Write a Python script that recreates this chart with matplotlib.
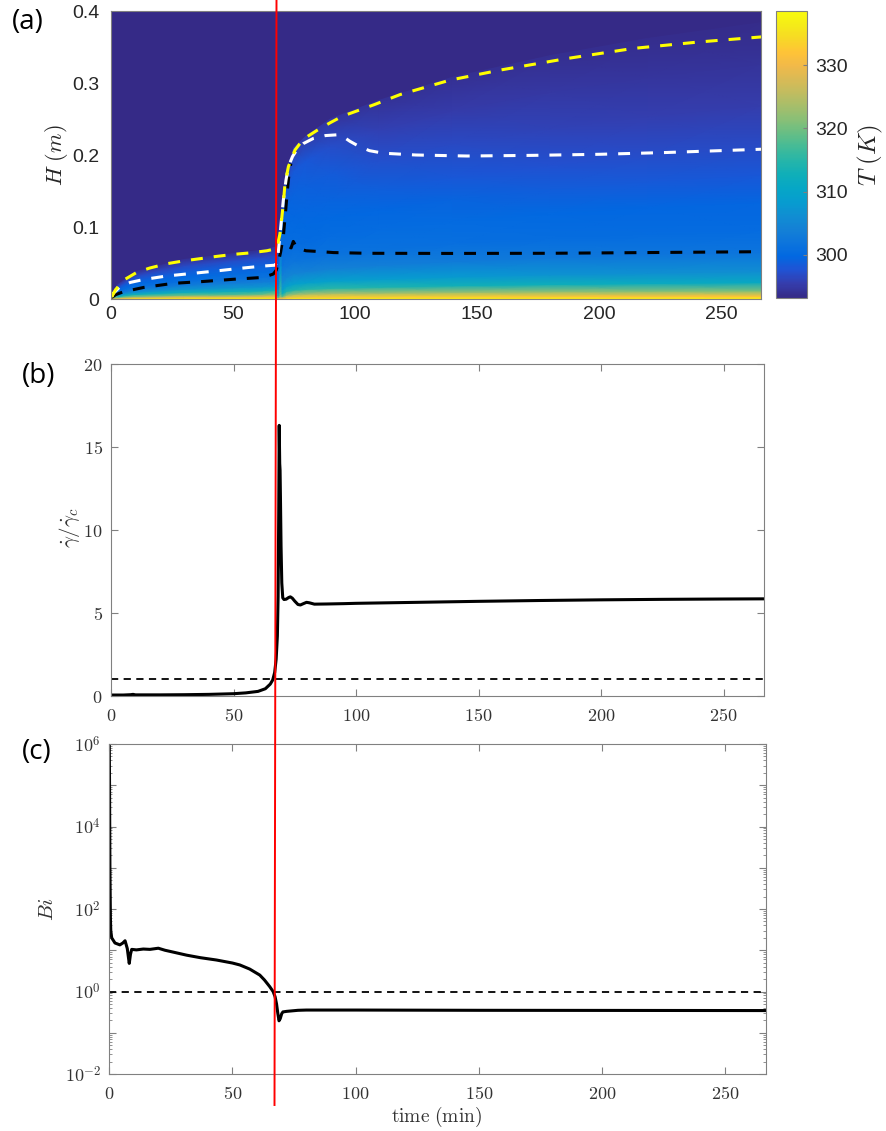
import numpy as np
import matplotlib
matplotlib.use('Agg')
import matplotlib.pyplot as plt
from matplotlib.colors import LinearSegmentedColormap
from matplotlib.ticker import FixedLocator, FuncFormatter, LogLocator, NullFormatter
from matplotlib.lines import Line2D

plt.rcParams['mathtext.fontset'] = 'cm'

# MATLAB parula colormap (every 3rd entry of the 64-colour table)
PARULA = [
    (0.2081, 0.1663, 0.5292), (0.2081, 0.2386, 0.6771), (0.1253, 0.3242, 0.8303),
    (0.0060, 0.4086, 0.8828), (0.0498, 0.4586, 0.8641), (0.0779, 0.5040, 0.8384),
    (0.0641, 0.5570, 0.8240), (0.0265, 0.6137, 0.8135), (0.0228, 0.6535, 0.7768),
    (0.0590, 0.6838, 0.7254), (0.1453, 0.7098, 0.6646), (0.2586, 0.7317, 0.5954),
    (0.3953, 0.7459, 0.5244), (0.5300, 0.7491, 0.4661), (0.6473, 0.7456, 0.4188),
    (0.7525, 0.7384, 0.3768), (0.8507, 0.7299, 0.3360), (0.9450, 0.7261, 0.2886),
    (0.9990, 0.7653, 0.2164), (0.9697, 0.8481, 0.1475), (0.9598, 0.9218, 0.0948),
    (0.9763, 0.9831, 0.0538)]
parula = LinearSegmentedColormap.from_list('parula', PARULA)

# ---- panel (a): temperature field, columns in time, rows as fraction of local depth
col_t = [0, 3, 10, 30, 50, 62, 67.5, 68.6, 69.4, 70.3, 72, 75, 80, 90, 110, 140, 180, 220, 266.5]
col_top = [0.004, 0.02, 0.038, 0.055, 0.063, 0.068, 0.072, 0.078, 0.10, 0.13, 0.178, 0.21,
           0.226, 0.25, 0.276, 0.308, 0.338, 0.362, 0.384]
eta = [0, 0.01, 0.03, 0.06, 0.1, 0.17, 0.25, 0.35, 0.45, 0.55, 0.7, 0.85, 1.0]
T_cols = [
    [338, 338, 337, 335, 332, 328, 322, 316, 310, 305, 300, 297, 294],
    [338, 337, 334, 328, 322, 315, 309, 304, 302, 300.5, 299, 297, 294.5],
    [338, 337, 334, 327, 320, 313, 307, 303, 301, 299.8, 298.5, 296.5, 294],
    [338, 337, 334, 327, 319, 312, 307, 303, 301, 299.8, 298.5, 296.5, 294],
    [338, 337, 334, 326, 318, 312, 307, 303.5, 301.5, 300.3, 298.8, 296.8, 294],
    [338, 337, 334, 327, 319, 312, 307, 303.5, 301.5, 300.3, 298.8, 296.8, 294],
    [338, 337, 334, 328, 321, 313, 307, 303, 301, 300, 298.5, 296.5, 294.5],
    [338, 330, 318, 310, 306, 303, 301, 300, 299.5, 299, 298, 297, 295],
    [338, 332, 325, 320, 318, 316, 314, 311, 308, 305, 302, 299, 296],
    [338, 330, 318, 312, 309, 306, 304, 302, 301, 300.5, 300, 299, 296],
    [338, 332, 322, 314, 309, 305, 302.5, 301, 300.3, 300, 299.5, 298.5, 296],
    [338, 333, 323, 314, 309, 304.5, 302, 300.6, 300, 299.7, 299.2, 298.3, 295.5],
    [338, 333, 324, 315, 309, 304, 301.5, 300.2, 299.8, 299.5, 299, 298, 295],
    [338, 333, 324, 315, 309, 304, 301.5, 300.3, 299.8, 299.4, 298.5, 297, 294.5],
    [338, 333, 323, 314, 308.5, 303.5, 301.2, 300.3, 299.7, 298.8, 297.2, 295.8, 294.2],
    [338, 333, 322.5, 313, 308, 303, 301, 300.2, 299.3, 298, 296.6, 295.3, 294],
    [338, 332.5, 322, 312.5, 307, 302.5, 300.6, 299.8, 298.6, 297.3, 295.9, 294.8, 293.8],
    [338, 332, 321, 311.5, 306.5, 302, 300.4, 299.6, 298.2, 297, 295.6, 294.5, 293.6],
    [338, 332, 320.5, 311, 306, 301.8, 300.3, 299.5, 298, 296.8, 295.5, 294.4, 293.5]]

yellow_line = [(0.4, 0.003), (2, 0.013), (5.2, 0.026), (10.7, 0.037), (16, 0.043), (23, 0.049),
               (30, 0.053), (36.6, 0.056), (43, 0.059), (50.3, 0.062), (57, 0.064), (64, 0.067),
               (68, 0.070), (69.3, 0.09), (70, 0.110), (70.7, 0.133), (71.4, 0.160), (72.8, 0.184),
               (75.5, 0.207), (78.9, 0.222), (84.4, 0.234), (90, 0.245), (95, 0.254), (108, 0.270),
               (118.6, 0.284), (139, 0.304), (159.6, 0.318), (186.9, 0.334), (214, 0.348),
               (241, 0.357), (266.5, 0.364)]
white_line = [(0.4, 0.003), (1.1, 0.008), (3.8, 0.017), (8, 0.023), (13.4, 0.027), (23, 0.032),
              (33.9, 0.0357), (43.4, 0.039), (53, 0.0426), (62.5, 0.0458), (67.5, 0.047),
              (68.5, 0.06), (69.4, 0.091), (70.7, 0.137), (71.8, 0.165), (72.8, 0.184),
              (74.5, 0.198), (76.2, 0.207), (79, 0.216), (83, 0.223), (88, 0.227), (92.6, 0.228),
              (95, 0.226), (98, 0.219), (102, 0.2115), (106, 0.206), (111.7, 0.2025), (125, 0.200),
              (146, 0.1986), (173, 0.1995), (200.5, 0.201), (227.9, 0.2035), (266.5, 0.208)]
# black contour: rising branch along the front, then the branch that stays low
black_rise = [(0.4, 0.002), (2, 0.006), (5.2, 0.010), (13.4, 0.016), (25.7, 0.0218),
              (36.6, 0.024), (50.3, 0.0274), (62.5, 0.030), (66.6, 0.0347), (67.8, 0.040),
              (68.6, 0.05), (69.6, 0.065), (70.8, 0.09), (71.7, 0.124), (72.4, 0.152),
              (73.1, 0.176), (73.8, 0.188)]
black_low = [(73.3, 0.072), (73.9, 0.071), (74.8, 0.080), (75.6, 0.075), (77, 0.070),
             (80, 0.067), (85, 0.066), (91.2, 0.0645), (105, 0.0635), (139, 0.0633),
             (180, 0.0635), (220, 0.0645), (266.5, 0.0657)]

# ---- panel (b): shear rate ratio
gam_t = [0, 5, 8, 9, 10, 20, 30, 40, 50, 55, 60, 63, 65, 66, 66.8, 67.4, 67.9, 68.2, 68.45,
         68.65, 68.85, 69.0, 69.15, 69.4, 69.7, 70.1, 70.6, 71.5, 72.5, 73.2, 74.0, 75.0, 76.3,
         77.3, 78.5, 79.8, 81, 83, 88, 95, 100, 125, 150, 175, 200, 225, 250, 266.5]
gam_v = [0.04, 0.04, 0.06, 0.08, 0.05, 0.05, 0.06, 0.08, 0.12, 0.17, 0.26, 0.42, 0.7, 0.95,
         1.4, 2.2, 3.6, 6.0, 11.0, 16.3, 14.0, 13.6, 12.0, 9.0, 6.8, 5.9, 5.8, 5.82, 5.92, 5.96,
         5.88, 5.7, 5.5, 5.47, 5.55, 5.63, 5.6, 5.52, 5.53, 5.55, 5.57, 5.63, 5.69, 5.74, 5.78,
         5.81, 5.83, 5.84]

# ---- panel (c): Biot number
bi_t = [0, 0.1, 0.25, 0.45, 0.6, 0.97, 2.3, 4.3, 5.5, 6.4, 7.3, 7.8, 8.1, 8.6, 9.1, 11, 13.8,
        16.5, 19.9, 22.6, 26, 31.4, 37, 43.5, 50, 53, 57, 61.1, 63, 65.1, 66.5, 67.3, 67.9,
        68.4, 68.9, 69.4, 70.0, 70.5, 72, 76.6, 80, 100, 150, 200, 266.5]
bi_v = [9.5e5, 1e5, 1e3, 60, 30, 20, 15, 13.5, 15, 17, 11, 6.5, 4.8, 8, 10.5, 10.2, 10.7, 10.5,
        11.2, 10, 9, 7.6, 6.6, 5.8, 4.9, 4.4, 3.5, 2.5, 1.9, 1.32, 1.0, 0.75, 0.5, 0.3, 0.195,
        0.22, 0.29, 0.32, 0.33, 0.35, 0.355, 0.355, 0.35, 0.348, 0.345]

T_MIN, T_MAX = 293.2, 338.6
T_END = 266.5
W, H = 886, 1131
GRAY = '#808080'
TXT = '#262626'


def rect(l, t, r, b):
    return [l / W, 1 - b / H, (r - l) / W, (b - t) / H]


fig = plt.figure(figsize=(W / 100, H / 100), dpi=100)

# ---------------- (a)
ax_a = fig.add_axes(rect(110.7, 11, 761.3, 299))
X = np.tile(col_t, (len(eta), 1))
Y = np.outer(eta, col_top)
C = np.array(T_cols).T
mesh = ax_a.pcolormesh(X, Y, C, shading='gouraud', cmap=parula, vmin=T_MIN, vmax=T_MAX)
ax_a.set_facecolor(PARULA[0])

dash = (0, (3.9, 3.6))
for pts, col in [(black_rise, 'black'), (black_low, 'black'),
                 (white_line, 'white'), (yellow_line, '#ffff00')]:
    tt, hh = np.array(pts).T
    ax_a.plot(tt, hh, color=col, lw=2.2, ls=dash, dash_capstyle='butt')

ax_a.set_xlim(0, T_END)
ax_a.set_ylim(0, 0.4)
ax_a.set_xticks([0, 50, 100, 150, 200, 250])
ax_a.set_yticks([0, 0.1, 0.2, 0.3, 0.4])
ax_a.set_yticklabels(['0', '0.1', '0.2', '0.3', '0.4'])
ax_a.tick_params(length=0, labelsize=14, labelcolor=TXT)
ax_a.tick_params(axis='x', pad=5)
ax_a.tick_params(axis='y', pad=8)
for lab in ax_a.get_xticklabels() + ax_a.get_yticklabels():
    lab.set_family('Liberation Sans')
for sp in ax_a.spines.values():
    sp.set_color(GRAY)
    sp.set_linewidth(0.8)

cax = fig.add_axes(rect(776.3, 11, 807, 297.7))
cb = fig.colorbar(mesh, cax=cax)
cb.set_ticks([300, 310, 320, 330])
cb.ax.tick_params(direction='in', length=3, width=0.8, color=GRAY, labelsize=14,
                  labelcolor=TXT, pad=6)
for lab in cb.ax.get_yticklabels():
    lab.set_family('Liberation Sans')
cb.outline.set_edgecolor(GRAY)
cb.outline.set_linewidth(0.8)
fig.text(870 / W, 1 - 155 / H, r'$T\ (K)$', rotation=90, ha='center', va='center',
         fontsize=18, color=TXT)
fig.text(56 / W, 1 - 155 / H, r'$H\ (m)$', rotation=90, ha='center', va='center',
         fontsize=16, color=TXT)

cm_fmt = FuncFormatter(lambda v, p: '$%g$' % v)


def style_line_axes(ax):
    for sp in ax.spines.values():
        sp.set_color(GRAY)
        sp.set_linewidth(0.8)
    ax.tick_params(which='both', direction='in', top=True, right=True, color=GRAY,
                   labelsize=13, labelcolor='#333333')
    ax.tick_params(which='major', length=5, width=0.8)
    ax.tick_params(which='minor', length=2.5, width=0.6)
    ax.tick_params(axis='x', pad=8)
    ax.tick_params(axis='y', pad=6)
    ax.set_xlim(0, T_END)
    ax.set_xticks([0, 50, 100, 150, 200, 250])
    ax.xaxis.set_major_formatter(cm_fmt)


# ---------------- (b)
ax_b = fig.add_axes(rect(111, 364, 764, 695.7))
ax_b.plot(gam_t, gam_v, color='black', lw=2.2)
ax_b.axhline(1, color='black', lw=1.3, ls=(0, (4, 3)))
ax_b.set_ylim(0, 20)
ax_b.set_yticks([0, 5, 10, 15, 20])
ax_b.yaxis.set_major_formatter(cm_fmt)
style_line_axes(ax_b)
fig.text(69 / W, 1 - 527 / H, r'$\dot{\gamma}/\dot{\gamma}_c$', rotation=90, ha='center',
         va='center', fontsize=15, color='#333333')

# ---------------- (c)
ax_c = fig.add_axes(rect(109.3, 744, 765.7, 1074))
ax_c.plot(bi_t, bi_v, color='black', lw=2.2)
ax_c.axhline(1, color='black', lw=1.3, ls=(0, (4, 3)))
ax_c.set_yscale('log')
ax_c.set_ylim(1e-2, 1e6)
ax_c.yaxis.set_major_locator(FixedLocator([10.0 ** k for k in range(-2, 7)]))
ax_c.yaxis.set_minor_locator(LogLocator(base=10, subs=np.arange(2, 10), numticks=100))
ax_c.yaxis.set_minor_formatter(NullFormatter())


def log_lab(v, p):
    k = int(round(np.log10(v)))
    return '$10^{%d}$' % k if k % 2 == 0 else ''


ax_c.yaxis.set_major_formatter(FuncFormatter(log_lab))
style_line_axes(ax_c)
fig.text(47 / W, 1 - 909 / H, r'$Bi$', rotation=90, ha='center', va='center',
         fontsize=15, color='#333333')
fig.text(437 / W, 1 - 1117 / H, r'$\mathrm{time\ (min)}$', ha='center', va='center',
         fontsize=14, color='#333333')

# panel letters
for lab, x, y in [('(a)', 12, 22), ('(b)', 22, 376), ('(c)', 22, 752)]:
    fig.text(x / W, 1 - y / H, lab, ha='left', va='center', fontsize=20,
             family='Open Sans', color='black')

# red marker line across the whole figure
fig.add_artist(Line2D([276.5 / W, 274.5 / W], [1.0, 1 - 1105 / H], color='#ff0000',
                      lw=1.4, transform=fig.transFigure))

fig.savefig('out.png', dpi=100)
